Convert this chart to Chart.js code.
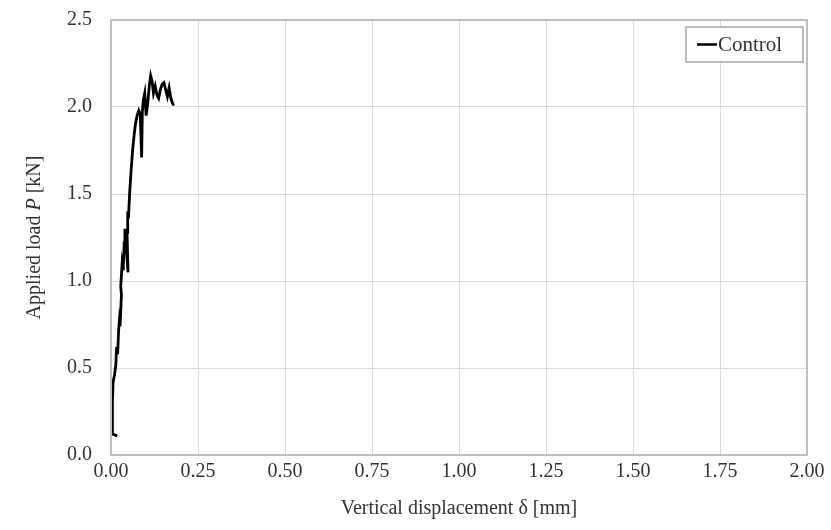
<!DOCTYPE html>
<html>
<head>
<meta charset="utf-8">
<script src="https://cdn.jsdelivr.net/npm/chart.js@4"></script>
<style>
  html, body { margin: 0; padding: 0; background: #ffffff; }
  #wrap { width: 831px; height: 530px; }
</style>
</head>
<body>
<div id="wrap"><canvas id="loadChart" width="831" height="530"></canvas></div>
<script>
// Control specimen: vertical displacement (mm) vs applied load (kN)
const displacement = [0.018, 0.005, 0.004, 0.006, 0.010, 0.014, 0.016, 0.019, 0.022, 0.024,
    0.026, 0.030, 0.028, 0.032, 0.035, 0.038, 0.040, 0.049, 0.046, 0.048,
    0.050, 0.054, 0.058, 0.062, 0.066, 0.070, 0.075, 0.080, 0.084, 0.088,
    0.090, 0.093, 0.097, 0.101, 0.106, 0.110, 0.114, 0.118, 0.122, 0.127,
    0.132, 0.137, 0.142, 0.147, 0.152, 0.157, 0.162, 0.167, 0.172, 0.177, 0.181];
const load = [0.11, 0.12, 0.30, 0.42, 0.46, 0.52, 0.62, 0.58, 0.72, 0.77,
    0.74, 0.92, 0.97, 1.10, 1.06, 1.22, 1.30, 1.05, 1.28, 1.40,
    1.36, 1.52, 1.64, 1.75, 1.83, 1.90, 1.95, 1.98, 1.96, 1.71,
    1.97, 2.04, 2.08, 1.95, 2.03, 2.12, 2.18, 2.15, 2.08, 2.12,
    2.07, 2.05, 2.10, 2.13, 2.14, 2.10, 2.06, 2.11, 2.05, 2.02, 2.01];

const seriesName = 'Control';
const xTicks = [0, 0.25, 0.5, 0.75, 1.0, 1.25, 1.5, 1.75, 2.0];
const yTicks = [0, 0.5, 1.0, 1.5, 2.0, 2.5];

const FONT = '"Liberation Serif", "Times New Roman", serif';
const textColor = '#333333';
const gridColor = '#d9d9d9';
const frameColor = '#bfbfbf';

// frame around the plot, legend box, y title with italic P
const decorations = {
    id: 'decorations',
    afterDraw(chart) {
        const { ctx, chartArea } = chart;
        ctx.save();
        ctx.strokeStyle = frameColor;
        ctx.lineWidth = 2;
        ctx.strokeRect(chartArea.left, chartArea.top, chartArea.right - chartArea.left, chartArea.bottom - chartArea.top);

        // legend, top right inside the plot
        const bx = chartArea.right - 121, by = chartArea.top + 7, bw = 117, bh = 35;
        ctx.fillStyle = '#ffffff';
        ctx.fillRect(bx, by, bw, bh);
        ctx.strokeStyle = '#a6a6a6';
        ctx.lineWidth = 1.5;
        ctx.strokeRect(bx, by, bw, bh);
        ctx.strokeStyle = '#000000';
        ctx.lineWidth = 2.5;
        ctx.beginPath();
        ctx.moveTo(bx + 11, by + bh / 2);
        ctx.lineTo(bx + 31, by + bh / 2);
        ctx.stroke();
        ctx.fillStyle = textColor;
        ctx.font = '21px ' + FONT;
        ctx.textBaseline = 'middle';
        ctx.textAlign = 'left';
        ctx.fillText(seriesName, bx + 32, by + bh / 2 + 1);

        // y axis title
        const parts = [
            { t: 'Applied load ', f: '20px ' + FONT },
            { t: 'P', f: 'italic 20px ' + FONT },
            { t: ' [kN]', f: '20px ' + FONT }
        ];
        let total = 0;
        parts.forEach(p => { ctx.font = p.f; p.w = ctx.measureText(p.t).width; total += p.w; });
        ctx.translate(35, (chartArea.top + chartArea.bottom) / 2);
        ctx.rotate(-Math.PI / 2);
        ctx.fillStyle = textColor;
        let x = -total / 2;
        parts.forEach(p => { ctx.font = p.f; ctx.fillText(p.t, x, 0); x += p.w; });
        ctx.restore();
    }
};

const points = displacement.map((d, i) => ({ x: d, y: load[i] }));

new Chart(document.getElementById('loadChart'), {
    type: 'scatter',
    data: {
        datasets: [{
            label: seriesName,
            data: points,
            showLine: true,
            borderColor: '#000000',
            backgroundColor: '#000000',
            borderWidth: 2.8,
            pointRadius: 0,
            tension: 0
        }]
    },
    options: {
        responsive: false,
        animation: false,
        layout: { padding: { left: 0, right: 24, top: 20, bottom: 0 } },
        plugins: {
            tooltip: { enabled: false },
            legend: { display: false }
        },
        scales: {
            x: {
                type: 'linear',
                min: 0,
                max: 2,
                afterBuildTicks: (s) => { s.ticks = xTicks.map(v => ({ value: v })); },
                afterFit: (s) => { s.height = 75; s.paddingLeft = 0; s.paddingRight = 0; },
                grid: { color: gridColor, drawTicks: false },
                border: { display: false },
                ticks: {
                    color: textColor,
                    padding: 5,
                    font: { family: FONT, size: 20 },
                    callback: (v) => Number(v).toFixed(2)
                },
                title: {
                    display: true,
                    text: 'Vertical displacement δ [mm]',
                    color: textColor,
                    font: { family: FONT, size: 20 },
                    padding: { top: 0, bottom: 9 }
                }
            },
            y: {
                type: 'linear',
                min: 0,
                max: 2.5,
                afterBuildTicks: (s) => { s.ticks = yTicks.map(v => ({ value: v })); },
                afterFit: (s) => { s.width = 111; s.paddingTop = 0; s.paddingBottom = 0; },
                grid: { color: gridColor, drawTicks: false },
                border: { display: false },
                ticks: {
                    color: textColor,
                    padding: 19,
                    font: { family: FONT, size: 20 },
                    callback: (v) => Number(v).toFixed(1)
                }
            }
        }
    },
    plugins: [decorations]
});
</script>
</body>
</html>
